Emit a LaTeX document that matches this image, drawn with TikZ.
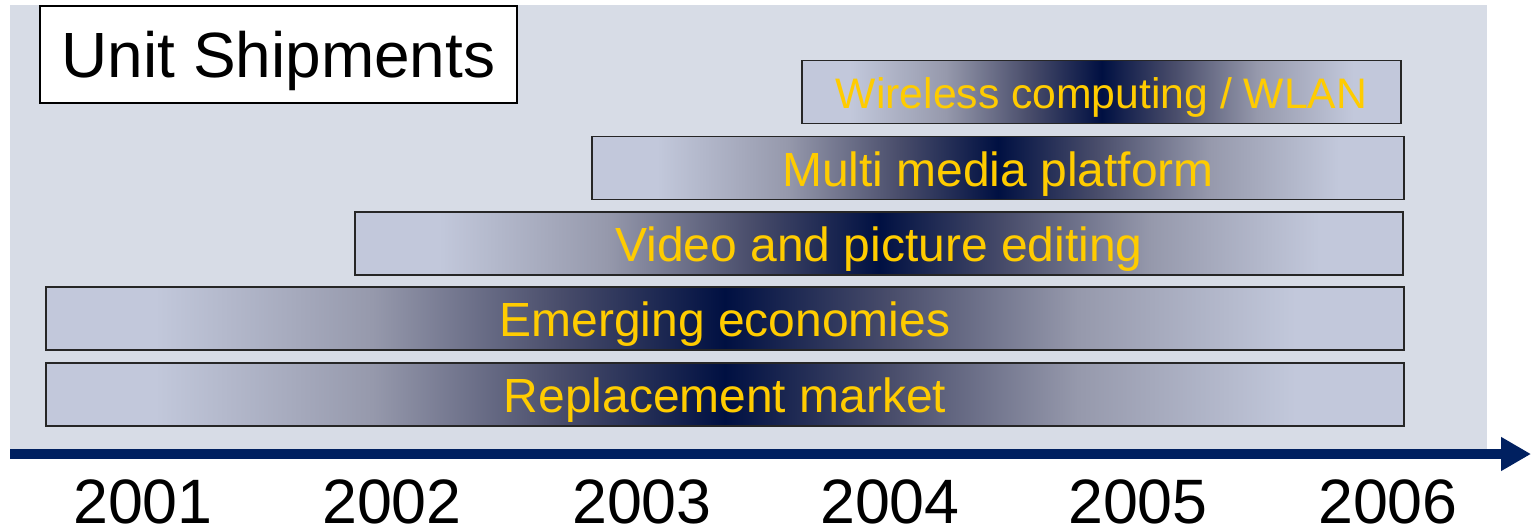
\documentclass[tikz,border=0pt]{standalone}
\usepackage{fontspec}
\setmainfont{Liberation Sans}
\usepackage{tikz}
\usetikzlibrary{arrows.meta}
\usetikzlibrary{positioning}
\definecolor{panelgray}{RGB}{215,220,230}
\definecolor{barlight}{RGB}{194,200,219}
\definecolor{barmid}{RGB}{150,153,172}
\definecolor{barmiddark}{RGB}{72,76,106}
\definecolor{bardark}{RGB}{0,16,66}
\definecolor{axisblue}{RGB}{0,32,96}
\definecolor{labelgold}{RGB}{255,204,0}
\pgfdeclarehorizontalshading{barglow}{100bp}{color(0bp)=(barlight); color(29bp)=(barlight); color(37bp)=(barmid); color(44bp)=(barmiddark); color(50bp)=(bardark); color(56bp)=(barmiddark); color(63bp)=(barmid); color(71bp)=(barlight); color(100bp)=(barlight)}
\tikzset{
  trendbar/.style={draw=black!85, line width=0.8pt, shading=barglow,
    minimum height=1.26cm, inner sep=0pt, text=labelgold,
    text height=20.7pt, text depth=0pt,
    font=\fontsize{27.3}{30}\selectfont},
  smallbar/.style={trendbar, text height=18.6pt,
    font=\fontsize{24.3}{28}\selectfont},
  yearlabel/.style={inner sep=0pt, font=\fontsize{35.7}{40}\selectfont},
  titlebox/.style={draw, fill=white, line width=0.8pt, inner sep=0pt,
    minimum width=9.54cm, minimum height=1.94cm,
    text height=25.8pt, text depth=0pt,
    font=\fontsize{36.4}{40}\selectfont},
  axisline/.style={axisblue, line width=0.2cm,
    -{Triangle[length=0.6cm,width=0.64cm]}},
}

\begin{document}
\begin{tikzpicture}[x=0.02cm, y=-0.02cm]
    \useasboundingbox (0,0) rectangle (1535,531);
    \fill[panelgray] (10,5) rectangle (1487,449);

    \node[titlebox] (title) at (278.5,54.5) {Unit Shipments};

    \node[smallbar, minimum width=11.98cm] (wlan) at (1101.5,92) {Wireless computing / WLAN};
    \node[trendbar, minimum width=16.24cm] (media) at (998,168) {Multi media platform};
    \node[trendbar, minimum width=20.96cm] (video) at (879,243.5) {Video and picture editing};
    \node[trendbar, minimum width=27.16cm] (emerging) at (725,318.5) {Emerging economies};
    \node[trendbar, minimum width=27.16cm] (replace) at (725,394.5) {Replacement market};

    \coordinate (axis-start) at (10,454);
    \coordinate (axis-end) at (1531,454);
    \draw[axisline] (axis-start) -- (axis-end);

    \node[yearlabel] (y2001) at (143,502) {2001};
    \node[yearlabel] (y2002) at (392,502) {2002};
    \node[yearlabel] (y2003) at (642,502) {2003};
    \node[yearlabel] (y2004) at (890,502) {2004};
    \node[yearlabel] (y2005) at (1138,502) {2005};
    \node[yearlabel] (y2006) at (1388,502) {2006};
\end{tikzpicture}
\end{document}
